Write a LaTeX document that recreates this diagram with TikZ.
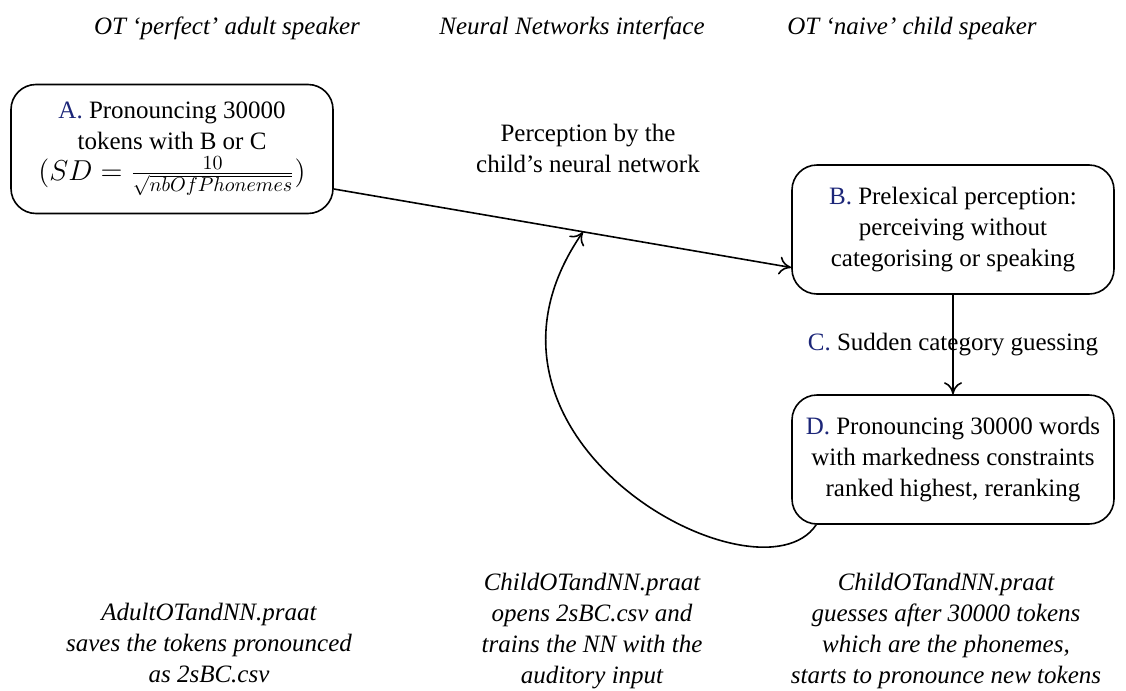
\documentclass[tikz,border=0pt]{standalone}
\usepackage{fontspec}
\setmainfont{Liberation Serif}
\usetikzlibrary{positioning, arrows.meta}
\definecolor{steplabel}{RGB}{28,38,120}
\newcommand{\stepname}[1]{\textcolor{steplabel}{#1}}

\begin{document}
\begin{tikzpicture}[
    x=0.5pt, y=-0.5pt,
    font=\fontsize{12.5}{15.5}\selectfont,
    box/.style={rectangle, draw, line width=0.8pt, rounded corners=12.5pt, align=center, minimum width=161pt, minimum height=64.5pt},
    caption/.style={align=center, font=\fontsize{12.5}{15.5}\selectfont\itshape},
    arrow/.style={-{To[length=6pt, width=9pt]}, line width=0.8pt}
]
\useasboundingbox (0,0) rectangle (1126,691);

% Headers
\node[caption] (hadult) at (227,28) {OT `perfect' adult speaker};
\node[caption] (hnn) at (572,28) {Neural Networks interface};
\node[caption] (hchild) at (912,28) {OT `naive' child speaker};

% Nodes
\node[box] (A) at (172,149) {\stepname{A.} Pronouncing 30000\\tokens with B or C\\{\fontsize{13.8}{15.5}\selectfont$(SD=\frac{10}{\sqrt{nbOfPhonemes}})$}};
\node[box] (B) at (953,229.5) {\stepname{B.} Prelexical perception:\\perceiving without\\categorising or speaking};
\node[box] (D) at (953,459.5) {\stepname{D.} Pronouncing 30000 words\\with markedness constraints\\ranked highest, reranking};
\node[align=center] (percep) at (588,148) {Perception by the\\child's neural network};

% Scripts
\node[caption, anchor=north] (sadult) at (209,596) {AdultOTandNN.praat\\saves the tokens pronounced\\as 2sBC.csv};
\node[caption, anchor=north] (snn) at (592,566) {ChildOTandNN.praat\\opens 2sBC.csv and\\trains the NN with the\\auditory input};
\node[caption, anchor=north] (schild) at (946,566) {ChildOTandNN.praat\\guesses after 30000 tokens\\which are the phonemes,\\starts to pronounce new tokens};

% Arrows
\draw[arrow] ([yshift=-20pt]A.east) -- coordinate[pos=0.545] (meet) ([yshift=-19pt]B.west);
\draw[arrow] (B) -- node {\stepname{C.} Sudden category guessing} (D);
\coordinate (dstart) at ([xshift=12.5pt]D.south west);
\draw[arrow] (dstart) .. controls +(-57,85) and +(-144,208) .. (meet);

\end{tikzpicture}
\end{document}
